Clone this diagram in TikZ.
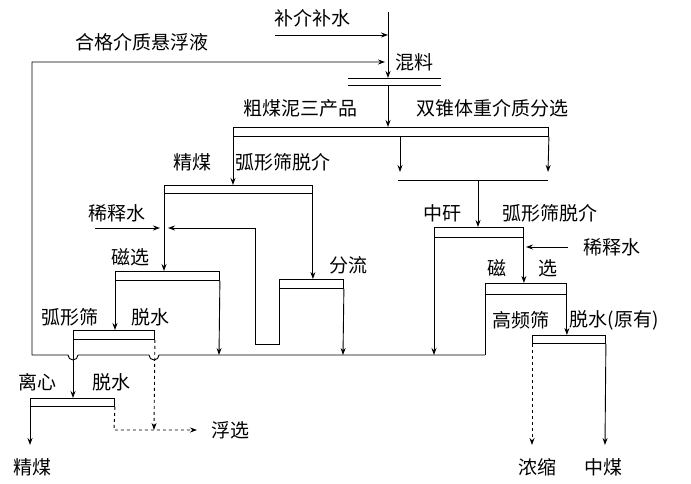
\documentclass[tikz,border=0pt]{standalone}
\usepackage{fontspec}
\setmainfont{Noto Sans CJK SC}
\usetikzlibrary{arrows.meta}
\begin{document}
\begin{tikzpicture}[
	x=1pt, y=-1pt,
	line width=0.9pt,
	font=\fontsize{19}{21}\selectfont,
	box/.style={
		rectangle,
		draw=black,
		anchor=north west,
		inner sep=0pt,
		minimum height=9pt
	},
	flow/.style={-{Stealth[length=7pt,width=5pt]}},
	dflow/.style={flow, dashed},
	lbl/.style={inner sep=1pt},
]
\useasboundingbox (0,0) rectangle (691,484);

% boxes
\node[box, minimum width=92pt, minimum height=7pt, draw=none] (mix) at (348,78) {};
\draw (mix.north west) -- (mix.north east) (mix.south west) -- (mix.south east);
\node[box, minimum width=315pt] (sep) at (233,127) {};
\node[box, minimum width=148pt, minimum height=8pt] (clean) at (164,185) {};
\node[box, minimum width=104pt] (mag) at (115,271) {};
\node[box, minimum width=64pt] (split) at (279,279) {};
\node[box, minimum width=81pt] (arc) at (73,330) {};
\node[box, minimum width=84pt, minimum height=8pt] (cent) at (30,398) {};
\node[box, minimum width=89pt, minimum height=10pt] (mid) at (434,227) {};
\node[box, minimum width=81pt, minimum height=11pt] (hf) at (485,283) {};
\node[box, minimum width=73pt, minimum height=8pt] (dw) at (532,335) {};

% labels
\node[lbl] (t_add) at (312,18) {补介补水};
\node[lbl] (t_ret) at (142,42) {合格介质悬浮液};
\node[lbl] (t_mix) at (414,62) {混料};
\node[lbl] (t_raw) at (300,108) {粗煤泥三产品};
\node[lbl] (t_dc) at (492,108) {双锥体重介质分选};
\node[lbl] (t_jm) at (192,162) {精煤};
\node[lbl] (t_hx1) at (283,162) {弧形筛脱介};
\node[lbl] (t_xs1) at (117,213) {稀释水};
\node[lbl] (t_cx1) at (130,257) {磁选};
\node[lbl] (t_fl) at (348,265) {分流};
\node[lbl] (t_hxs) at (70,317) {弧形筛};
\node[lbl] (t_ts1) at (150,317) {脱水};
\node[lbl] (t_lx) at (38,382) {离心};
\node[lbl] (t_ts2) at (111,382) {脱水};
\node[lbl] (t_fx) at (230,430) {浮选};
\node[lbl] (t_jm2) at (32,467) {精煤};
\node[lbl] (t_zg) at (442,213) {中矸};
\node[lbl] (t_hx2) at (550,213) {弧形筛脱介};
\node[lbl] (t_xs2) at (612,247) {稀释水};
\node[lbl] (t_ci) at (497,268) {磁};
\node[lbl] (t_xuan) at (548,268) {选};
\node[lbl] (t_gp) at (521,320) {高频筛};
\node[lbl] (t_ts3) at (614,320) {脱水(原有)};
\node[lbl] (t_ns) at (537,467) {浓缩};
\node[lbl] (t_zm) at (603,467) {中煤};

% helper coordinates
\coordinate (addtop) at (388,12);
\coordinate (addin) at (275,35);
\coordinate (mixin) at (388,78);
\coordinate (c_x1) at (95,228);
\coordinate (c_x1r) at (160,228);
\coordinate (c_back) at (168,228);
\coordinate (c_x2) at (568,247);
\coordinate (c_x2r) at (526,247);
\coordinate (c_fx) at (197,430);
\coordinate (c_bot) at (485,355);
\coordinate (c_jm) at (30,445);
\coordinate (c_ns) at (532,445);
\coordinate (c_zm) at (605,445);

% feed and medium return
\draw[flow] (addtop) -- (mixin);
\draw[flow] (addin) -- (addin -| mixin);
\draw (hf.north west) -- (c_bot);
\draw[flow] (c_bot) -- (159,355) arc[start angle=0, end angle=-180, radius=5pt] -- (78,355)
	arc[start angle=0, end angle=-180, radius=5pt] -- (32,355) -- (32,62) -- (385,62);
\draw[flow] (mix.south -| mixin) -- (sep.north -| mixin);

% heavy medium separation
\draw[flow] (sep.south west) -- (clean.north -| sep.west);
\draw[flow] (sep.south -| 400,0) -- (400,172);
\draw[flow] (sep.south east) -- (548,172);
\draw (398,180) -- (548,180);
\draw[flow] (478,180) -- (mid.north -| 478,0);

% clean coal branch
\draw[flow] (clean.south west) -- (mag.north -| clean.west);
\draw[flow] (clean.south east) -- (split.north -| clean.east);
\draw[flow] (c_x1) -- (c_x1r);
\draw[flow] (split.south west) -- (279,344) -- (255,344) -- (255,228) -- (c_back);
\draw[flow] (split.south east) -- (343,355);
\draw[flow] (mag.south west) -- (arc.north -| mag.west);
\draw[flow] (mag.south east) -- (219,355);
\draw[flow] (arc.south west) -- (cent.north -| arc.west);
\draw[dflow] (arc.south east) -- (154,430);
\draw[flow] (cent.south west) -- (c_jm);
\draw[dflow] (cent.south east) -- (114,430) -- (c_fx);

% middlings branch
\draw[flow] (mid.south west) -- (434,355);
\draw[flow] (mid.south east) -- (hf.north -| mid.east);
\draw[flow] (c_x2) -- (c_x2r);
\draw[flow] (hf.south east) -- (dw.north -| hf.east);
\draw[dflow] (dw.south west) -- (c_ns);
\draw[flow] (dw.south east) -- (c_zm);
\end{tikzpicture}
\end{document}
